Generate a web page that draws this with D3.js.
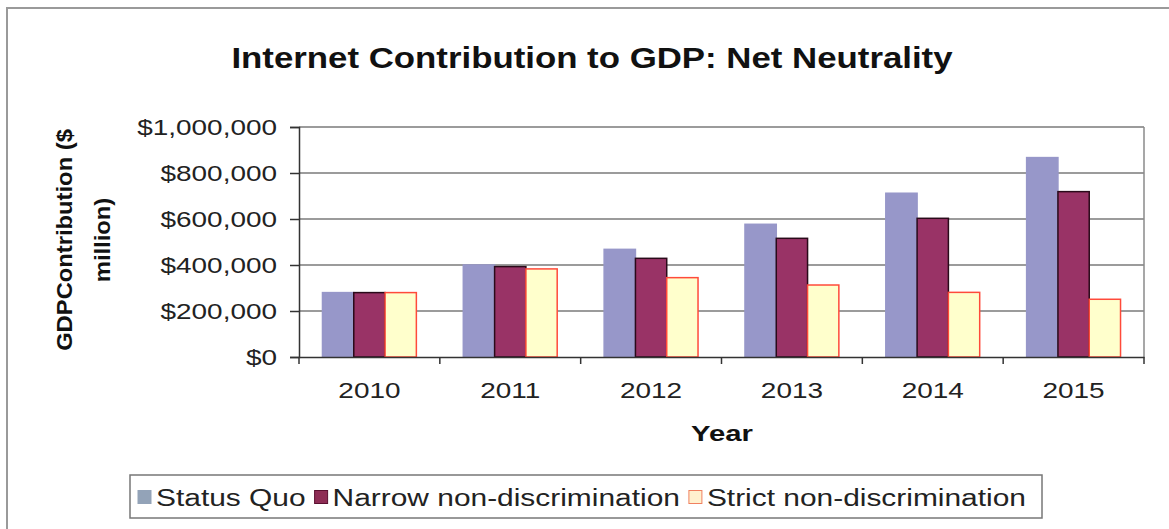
<!DOCTYPE html>
<html>
<head>
<meta charset="utf-8">
<script src="https://cdn.jsdelivr.net/npm/d3@7"></script>
<style>
  html, body { margin: 0; padding: 0; background: #fff; }
  svg { display: block; font-family: Arial, "Liberation Sans", sans-serif; }
</style>
</head>
<body>
<div id="chart"></div>
<script>
// Chart data
const years = ["2010", "2011", "2012", "2013", "2014", "2015"];
const statusQuo = [280000, 400000, 468000, 577000, 712000, 867000];
const narrowNonDisc = [280000, 393000, 429000, 516000, 603000, 719000];
const strictNonDisc = [280000, 383000, 345000, 313000, 281000, 251000];
const seriesNames = ["Status Quo", "Narrow non-discrimination", "Strict non-discrimination"];
const yTicks = [0, 200000, 400000, 600000, 800000, 1000000];

const width = 1169, height = 529;

const series = [
  { name: seriesNames[0], values: statusQuo, fill: "#9797c9", stroke: "#9797c9" },
  { name: seriesNames[1], values: narrowNonDisc, fill: "#993366", stroke: "#2a0a1a" },
  { name: seriesNames[2], values: strictNonDisc, fill: "#ffffcc", stroke: "#ff4a3a" }
];

// stretch text horizontally by a factor, keeping anchor
function stretch(sel, k) {
  sel.each(function() {
    const len = this.getComputedTextLength();
    d3.select(this).attr("textLength", len * k).attr("lengthAdjust", "spacingAndGlyphs");
  });
}

const svg = d3.select("#chart").append("svg")
  .attr("width", width)
  .attr("height", height);

// outer frame
svg.append("rect")
  .attr("x", 7).attr("y", 8)
  .attr("width", 1180).attr("height", 540)
  .attr("fill", "#fff")
  .attr("stroke", "#9a9a9a")
  .attr("stroke-width", 2);

const plot = { left: 299, right: 1144, top: 127, bottom: 357 };

const x = d3.scaleBand()
  .domain(years)
  .range([plot.left, plot.right]);

const xInner = d3.scaleBand()
  .domain(seriesNames)
  .range([0, x.bandwidth()])
  .paddingOuter(0.75)
  .paddingInner(0);

const y = d3.scaleLinear()
  .domain([0, 1000000])
  .range([plot.bottom, plot.top]);

// gridlines
svg.append("g")
  .selectAll("line")
  .data(yTicks.filter(d => d > 0))
  .enter().append("line")
  .attr("x1", plot.left).attr("x2", plot.right)
  .attr("y1", d => y(d)).attr("y2", d => y(d))
  .attr("stroke", "#7a7a7a")
  .attr("stroke-width", 1.5);

// plot area right border
svg.append("line")
  .attr("x1", plot.right).attr("x2", plot.right)
  .attr("y1", plot.top).attr("y2", plot.bottom)
  .attr("stroke", "#8a8a8a")
  .attr("stroke-width", 1.5);

// bars
const groups = svg.append("g")
  .selectAll("g")
  .data(series)
  .enter().append("g");

groups.selectAll("rect")
  .data(s => s.values.map((v, i) => ({ s, v, year: years[i] })))
  .enter().append("rect")
  .attr("x", d => x(d.year) + xInner(d.s.name))
  .attr("y", d => y(d.v))
  .attr("width", xInner.bandwidth())
  .attr("height", d => plot.bottom - y(d.v))
  .attr("fill", d => d.s.fill)
  .attr("stroke", d => d.s.stroke)
  .attr("stroke-width", 1.5);

// y axis
const yAxis = svg.append("g")
  .attr("transform", `translate(${plot.left},0)`)
  .call(d3.axisLeft(y).tickValues(yTicks).tickSize(9).tickPadding(13)
    .tickFormat(d => "$" + d3.format(",")(d)));
yAxis.select(".domain").attr("stroke", "#333").attr("stroke-width", 1.5);
yAxis.selectAll(".tick line").attr("stroke", "#333").attr("stroke-width", 1.5);
yAxis.selectAll(".tick text")
  .attr("font-size", 22)
  .attr("fill", "#222")
  .call(stretch, 1.27);

// x axis
const xAxis = svg.append("g")
  .attr("transform", `translate(0,${plot.bottom})`)
  .call(d3.axisBottom(x).tickSize(0).tickPadding(25));
xAxis.select(".domain").attr("stroke", "#333").attr("stroke-width", 1.5);
xAxis.selectAll(".tick text")
  .attr("font-size", 22)
  .attr("fill", "#222")
  .call(stretch, 1.27);

// category boundary ticks
svg.append("g")
  .selectAll("line")
  .data(years.concat(["end"]))
  .enter().append("line")
  .attr("x1", (d, i) => plot.left + i * x.step())
  .attr("x2", (d, i) => plot.left + i * x.step())
  .attr("y1", plot.bottom).attr("y2", plot.bottom + 7)
  .attr("stroke", "#333")
  .attr("stroke-width", 1.5);

// title
svg.append("text")
  .attr("x", 592).attr("y", 68)
  .attr("text-anchor", "middle")
  .attr("font-size", 29)
  .attr("font-weight", "bold")
  .attr("fill", "#111")
  .text("Internet Contribution to GDP: Net Neutrality")
  .call(stretch, 1.2);

// x axis title
svg.append("text")
  .attr("x", 722).attr("y", 441)
  .attr("text-anchor", "middle")
  .attr("font-size", 22)
  .attr("font-weight", "bold")
  .attr("fill", "#111")
  .text("Year")
  .call(stretch, 1.33);

// y axis title (two lines)
[["GDPContribution ($", 72], ["million)", 110]].forEach(([t, bx]) => {
  svg.append("text")
    .attr("transform", `translate(${bx},240) rotate(-90)`)
    .attr("text-anchor", "middle")
    .attr("font-size", 22)
    .attr("font-weight", "bold")
    .attr("fill", "#111")
    .text(t)
    .call(stretch, 1.08);
});

// legend
const legend = { left: 130, top: 475, w: 912, h: 43 };
svg.append("rect")
  .attr("x", legend.left).attr("y", legend.top)
  .attr("width", legend.w).attr("height", legend.h)
  .attr("fill", "#fff")
  .attr("stroke", "#777")
  .attr("stroke-width", 1.5);

const legendColors = ["#93a3b8", "#8e2d55", "#fff1cf"];
const legendStrokes = ["#93a3b8", "#5a1030", "#f08060"];
let lx = legend.left + 8;
const ly = legend.top + legend.h / 2 + 1;
series.forEach((s, i) => {
  svg.append("rect")
    .attr("x", lx).attr("y", ly - 7)
    .attr("width", 13).attr("height", 13)
    .attr("fill", legendColors[i])
    .attr("stroke", legendStrokes[i])
    .attr("stroke-width", 1);
  const t = svg.append("text")
    .attr("x", lx + 18).attr("y", ly)
    .attr("dy", "0.35em")
    .attr("font-size", 23)
    .attr("fill", "#222")
    .text(s.name)
    .call(stretch, 1.3);
  lx += 18 + (+t.attr("textLength")) + 9;
});
</script>
</body>
</html>
